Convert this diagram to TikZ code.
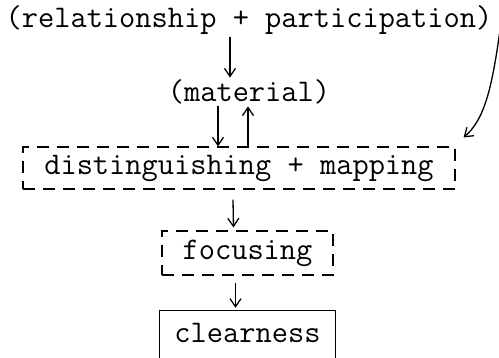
\documentclass[tikz,border=0pt]{standalone}
\usetikzlibrary{arrows.meta,positioning}
\tikzset{
       word/.style = { font=\fontsize{31.5}{33}\selectfont\ttfamily, inner sep=2pt },
    dashbox/.style = { word, draw, dash pattern=on 12pt off 8pt, line width=1.1pt },
       link/.style = { line width=1.3pt, -{Straight Barb[length=8pt,width=11pt,line width=1.3pt]} }
}
\begin{document}
\begin{tikzpicture}[x=1pt, y=-1pt]
  \clip (0,0) rectangle (499,357);
  % texts
  \node[word] (rel) at (249,20) {(relationship + participation)};
  \node[word] (mat) at (249,92) {(material)};
  % boxes
  \node[dashbox, minimum width=432pt, minimum height=42pt] (dist) at (239,168) {distinguishing + mapping};
  \node[dashbox, minimum width=171pt, minimum height=44pt] (foc) at (247.5,253) {focusing};
  \node[word, minimum width=175pt, minimum height=44pt] (clear) at (247.5,333) {clearness};
  \draw[line width=1.1pt] ([yshift=-60pt]clear.north west) |- (clear.north east) -- ([yshift=-60pt]clear.north east);
  % arrows
  \draw[link] ([xshift=-19pt]rel.south) -- ([xshift=-19pt]mat.north);
  \draw[link] ([xshift=-31pt]mat.south) -- ([xshift=-21pt]dist.north);
  \draw[link] ([xshift=9pt]dist.north) -- ([xshift=-1pt]mat.south);
  \draw[link] ([xshift=6pt,yshift=-6pt]rel.east) .. controls (492,90) and (484,120) .. ([xshift=8pt,yshift=9pt]dist.north east);
  \draw[link] ([xshift=-6pt,yshift=-10pt]dist.south) -- ([xshift=-14pt,yshift=3pt]foc.north);
  \draw[link] ([xshift=-12pt,yshift=-7pt]foc.south) -- ([xshift=-12pt,yshift=3pt]clear.north);
\end{tikzpicture}
\end{document}
